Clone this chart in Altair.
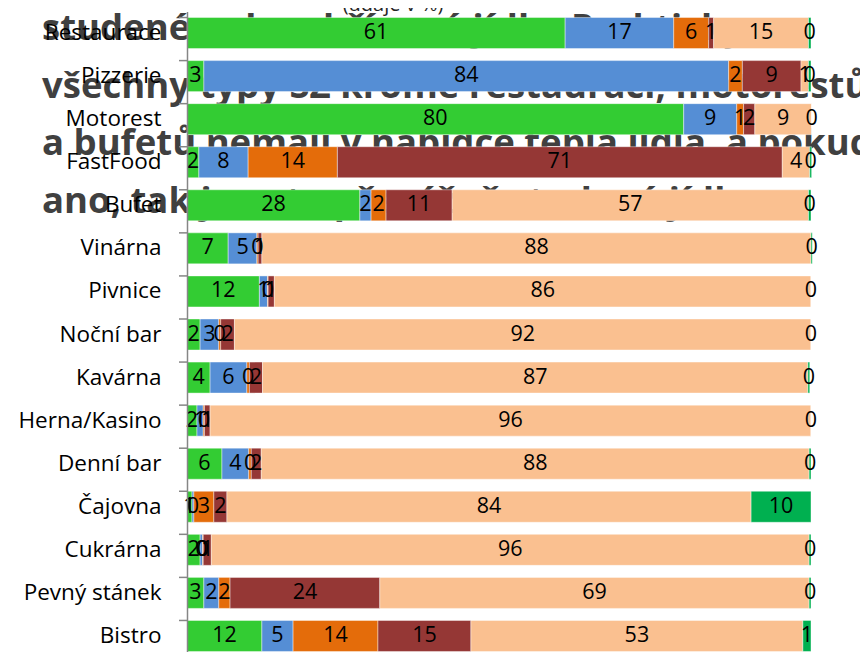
import altair as alt
import pandas as pd

categories = ["Restaurace", "Pizzerie", "Motorest", "FastFood", "Bufet", "Vinárna",
              "Pivnice", "Noční bar", "Kavárna", "Herna/Kasino", "Denní bar",
              "Čajovna", "Cukrárna", "Pevný stánek", "Bistro"]
series = ["řada 1", "řada 2", "řada 3", "řada 4", "řada 5", "řada 6"]
colors = ["#33CC33", "#558ED5", "#E46C0A", "#953735", "#FAC090", "#00B050"]

s1 = [60.6, 2.7, 79.6, 1.9, 27.7, 6.6, 11.6, 2.1, 3.7, 1.6, 5.6, 0.8, 2.1, 2.7, 12.0]
s2 = [17.4, 84.1, 8.5, 7.9, 1.8, 4.6, 1.3, 3.0, 5.9, 1.0, 4.3, 0.3, 0.4, 2.4, 5.0]
s3 = [5.6, 2.2, 1.1, 14.3, 2.4, 0.2, 0.1, 0.3, 0.4, 0.2, 0.4, 3.2, 0.1, 1.8, 13.6]
s4 = [0.8, 9.4, 1.8, 71.3, 10.6, 0.6, 1.0, 2.2, 2.1, 0.9, 1.6, 2.1, 1.3, 24.0, 14.9]
s5 = [15.2, 1.2, 9.1, 4.4, 57.1, 88.0, 86.0, 92.4, 87.4, 96.3, 87.8, 84.0, 95.8, 68.8, 53.2]
s6 = [0.4, 0.4, 0.0, 0.3, 0.4, 0.2, 0.0, 0.0, 0.3, 0.0, 0.3, 9.6, 0.3, 0.3, 1.3]

note_lines = [
    "studené nebo ohřívané jídla. Prakticky",
    "všechny typy SZ kromě restaurací, motorestů",
    "a bufetů nemají v nabídce teplá jídla, a pokud",
    "ano, tak jsou to převážně studená jídla.",
]
subtitle = "(údaje v %)"

rows = []
all_series = [s1, s2, s3, s4, s5, s6]
for i, c in enumerate(categories):
    start = 0.0
    for k, name in enumerate(series):
        v = all_series[k][i]
        rows.append(dict(cat=c, series=name, order=k, value=v,
                         start=start, end=start + v, mid=start + v / 2))
        start += v
df = pd.DataFrame(rows)
cat_df = pd.DataFrame({"cat": categories})

FONT = "Open Sans"

yscale = alt.Scale(domain=categories, paddingInner=0.28, paddingOuter=0.14)

note = alt.Chart(pd.DataFrame({"t": ["\n".join(note_lines)]})).mark_text(
    font=FONT, fontSize=36.5, fontWeight="bold", color="#404040", align="left",
    baseline="alphabetic", lineBreak="\n", lineHeight=57.5
).encode(text="t:N", x=alt.value(-145), y=alt.value(28.5))

sub = alt.Chart(pd.DataFrame({"t": [subtitle]})).mark_text(
    font=FONT, fontSize=20, color="#262626", align="center", baseline="alphabetic"
).encode(text="t:N", x=alt.value(206), y=alt.value(-1))

bars = alt.Chart(df).mark_bar(stroke="white", strokeWidth=0.6, strokeOpacity=0.7).encode(
    y=alt.Y("cat:N", sort=categories, scale=yscale,
            axis=alt.Axis(title=None, labelFont=FONT, labelFontSize=22.5, labelColor="black",
                          ticks=False, domainColor="#868686", domainWidth=1.5,
                          labelPadding=26, zindex=1)),
    x=alt.X("start:Q", scale=alt.Scale(domain=[0, 100], nice=False), axis=None),
    x2="end:Q",
    color=alt.Color("series:N", scale=alt.Scale(domain=series, range=colors), legend=None),
    order=alt.Order("order:Q"),
)

labels = alt.Chart(df).mark_text(font=FONT, fontSize=21.5, color="black", baseline="middle").encode(
    y=alt.Y("cat:N", sort=categories, scale=yscale),
    x=alt.X("mid:Q", scale=alt.Scale(domain=[0, 100], nice=False)),
    text=alt.Text("value:Q", format="d"),
)

ticks = alt.Chart(cat_df).mark_rule(color="#868686", strokeWidth=1.5).encode(
    y=alt.Y("cat:N", sort=categories, scale=yscale, bandPosition=0),
    x=alt.value(-8), x2=alt.value(0),
)

chart = alt.layer(note, bars, labels, ticks, sub).properties(
    width=624, height=646,
    padding={"left": 179, "top": 3.5, "right": 49, "bottom": 0},
    autosize=alt.AutoSizeParams(type="none"),
).configure_view(stroke=None)

chart.save("out.html", embed_options={"renderer": "svg", "actions": False})
